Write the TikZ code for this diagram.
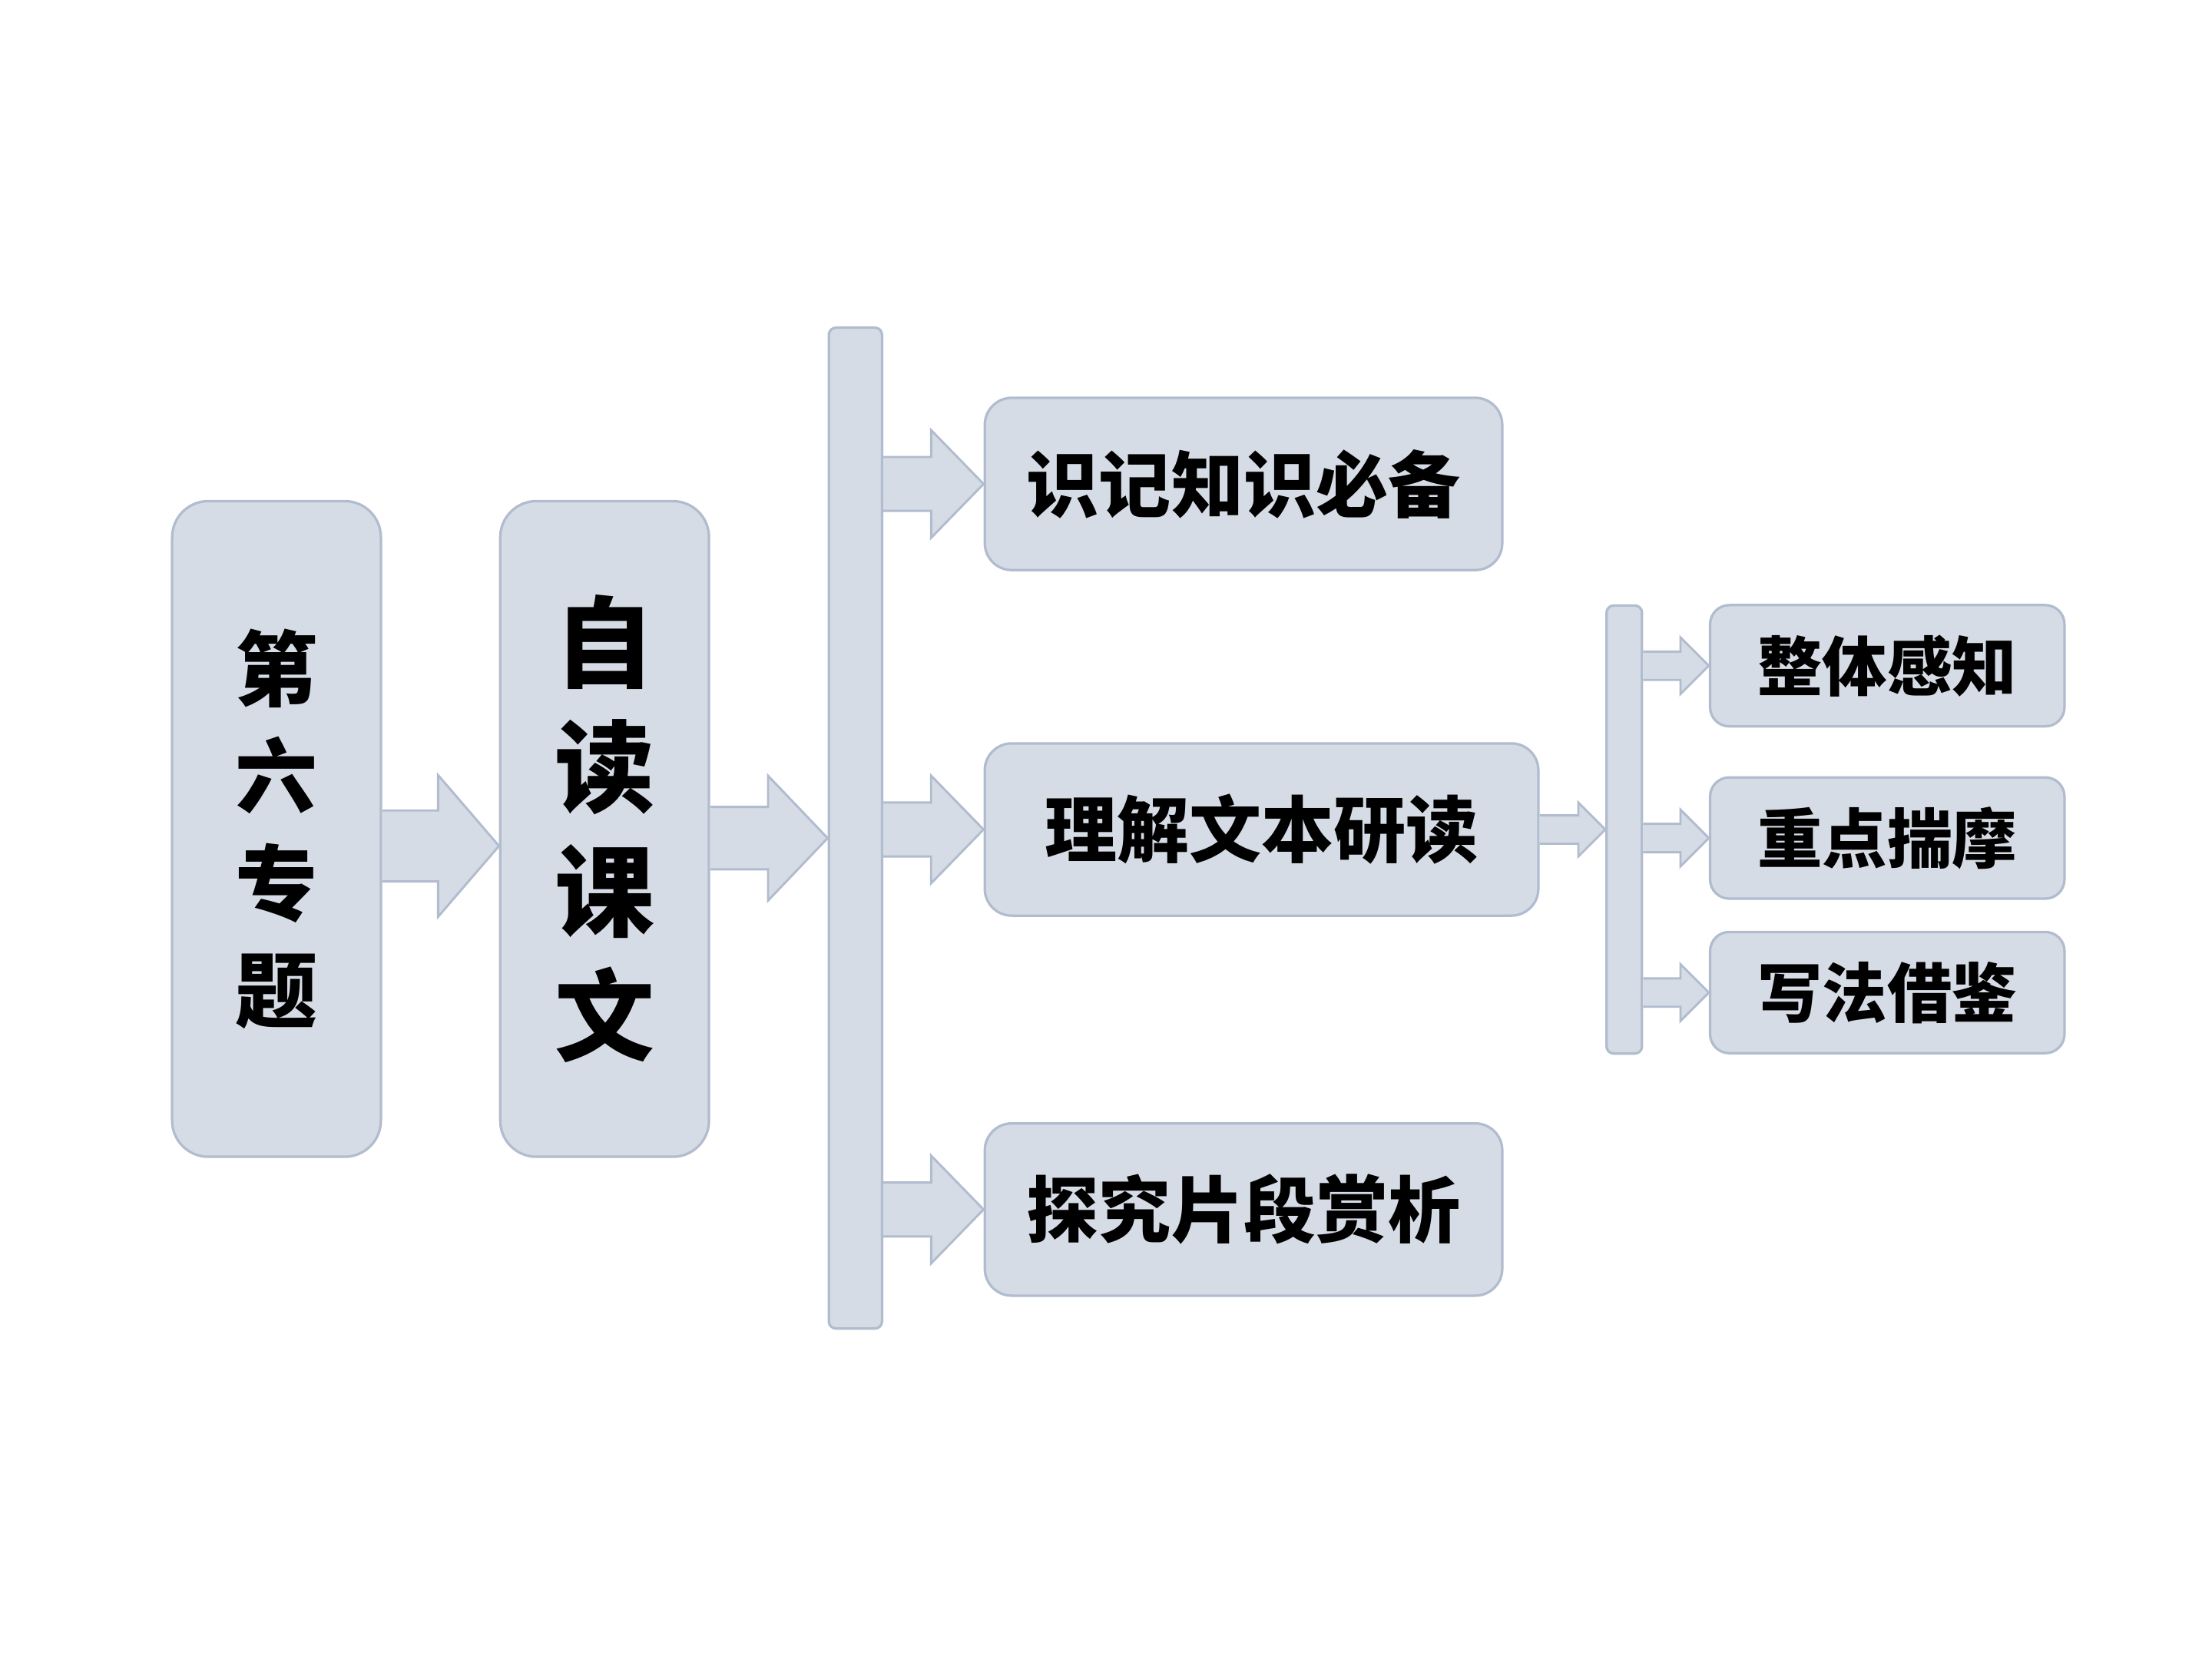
\documentclass[tikz,border=0pt]{standalone}
\usepackage{fontspec}
\newfontfamily\cjk{Noto Sans CJK SC}
\usetikzlibrary{calc}
\definecolor{boxfill}{HTML}{D6DCE5}
\definecolor{boxline}{HTML}{B1BCCE}
\def\blockarrow(#1)(#2)(#3:#4:#5){\draw[arrowbox] ($(#1)+(0,-#3)$) -- ($(#2)+(-#5,-#3)$) -- ($(#2)+(-#5,-#4)$) -- (#2) -- ($(#2)+(-#5,#4)$) -- ($(#2)+(-#5,#3)$) -- ($(#1)+(0,#3)$);}

\begin{document}
\begin{tikzpicture}[x=0.02cm,y=-0.02cm,
	box/.style={draw=boxline,fill=boxfill,line width=1pt,inner sep=0pt,align=center},
	arrowbox/.style={draw=boxline,fill=boxfill,line width=0.9pt},
	tallbox/.style={box,rounded corners=0.51cm,minimum width=2.945cm,minimum height=9.25cm},
	midbox/.style={box,rounded corners=0.38cm,minimum width=7.3cm,minimum height=2.43cm,font=\cjk\bfseries\fontsize{29}{29}\selectfont},
	smallbox/.style={box,rounded corners=0.27cm,minimum width=5cm,minimum height=1.71cm,font=\cjk\bfseries\fontsize{26}{26}\selectfont},
	barbox/.style={box,rounded corners=0.1cm}]
				%%%%% START %%%%%
				\useasboundingbox (0,0) rectangle (1560,1170);
				
				\node[tallbox,font=\cjk\bfseries\fontsize{33}{43}\selectfont] (zt) at (195,584.6) {第\\六\\专\\题};
				\node[tallbox,font=\cjk\bfseries\fontsize{40}{50}\selectfont] (zd) at (426.4,584.6) {自\\读\\课\\文};
				\node[barbox,minimum width=0.75cm,minimum height=14.12cm] (bar) at (603.3,584) {};
				
				\node[midbox] (sj) at (877,341.3) {识记知识必备};
				\node[midbox,minimum width=7.81cm] (lj) at (889.7,585) {理解文本研读};
				\node[midbox] (tj) at (877,853) {探究片段赏析};
				
				\node[barbox,minimum width=0.5cm,minimum height=6.32cm] (sbar) at (1145.5,585) {};
				\node[smallbox] (zg) at (1331,469.5) {整体感知};
				\node[smallbox] (zm) at (1331,591) {重点揣摩};
				\node[smallbox] (xf) at (1331,700) {写法借鉴};
				
				\coordinate (p1) at ($(zt.east)+(0,12)$);
				\coordinate (q1) at ($(zd.west)+(0,12)$);
				\blockarrow(p1)(q1)(25:50:43)
				
				\coordinate (p2) at ($(zd.east)+(0,6.5)$);
				\coordinate (q2) at (bar.west |- p2);
				\blockarrow(p2)(q2)(22:44:42)
				
				\foreach \n in {sj,lj,tj}{
					\coordinate (s\n) at (bar.east |- \n.west);
					\blockarrow(s\n)(\n.west)(19:38:37)
				}
				
				\coordinate (c1) at (sbar.west |- lj.east);
				\blockarrow(lj.east)(c1)(10:19:19)
				
				\foreach \n in {zg,zm,xf}{
					\coordinate (t\n) at (sbar.east |- \n.west);
					\blockarrow(t\n)(\n.west)(10:20:20)
				}
				%%%%% END %%%%%
\end{tikzpicture}
\end{document}
